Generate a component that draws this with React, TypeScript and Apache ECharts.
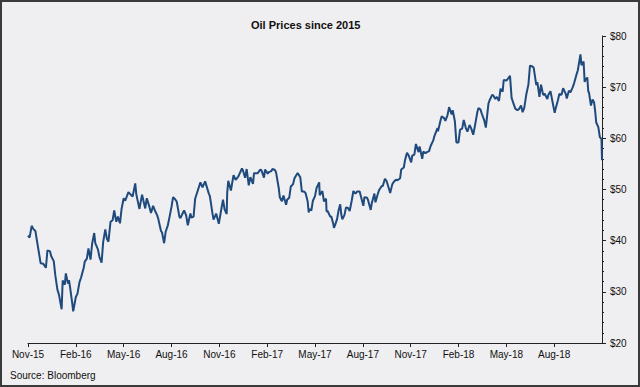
import React, { useEffect, useRef } from "react";
import * as echarts from "echarts";

// WTI crude, USD/bbl
const wti2015: [string, number][] = [
  ["2015-11-17", 41.0], ["2015-11-20", 40.6], ["2015-11-24", 42.9], ["2015-11-27", 42.3],
  ["2015-12-01", 41.9], ["2015-12-04", 40.0], ["2015-12-08", 37.5], ["2015-12-11", 35.6],
  ["2015-12-16", 35.5], ["2015-12-21", 34.7], ["2015-12-24", 38.1], ["2015-12-29", 37.9],
  ["2015-12-31", 37.0],
];
const wti2016: [string, number][] = [
  ["2016-01-05", 36.0], ["2016-01-08", 33.2], ["2016-01-12", 30.4], ["2016-01-15", 29.4],
  ["2016-01-20", 26.6], ["2016-01-22", 32.2], ["2016-01-26", 31.4], ["2016-01-28", 33.6],
  ["2016-02-01", 31.6], ["2016-02-03", 32.3], ["2016-02-05", 30.9], ["2016-02-09", 27.9],
  ["2016-02-11", 26.2], ["2016-02-16", 29.0], ["2016-02-19", 29.6], ["2016-02-23", 31.9],
  ["2016-02-26", 32.8], ["2016-03-02", 34.7], ["2016-03-04", 35.9], ["2016-03-08", 36.5],
  ["2016-03-11", 38.5], ["2016-03-15", 36.3], ["2016-03-18", 39.4], ["2016-03-22", 41.5],
  ["2016-03-24", 39.5], ["2016-03-29", 38.3], ["2016-04-01", 36.8], ["2016-04-05", 35.7],
  ["2016-04-08", 39.7], ["2016-04-12", 42.2], ["2016-04-15", 40.4], ["2016-04-18", 39.8],
  ["2016-04-22", 43.7], ["2016-04-26", 44.0], ["2016-04-29", 45.9], ["2016-05-03", 43.7],
  ["2016-05-06", 44.7], ["2016-05-10", 43.4], ["2016-05-13", 46.2], ["2016-05-17", 48.3],
  ["2016-05-20", 47.8], ["2016-05-26", 49.5], ["2016-06-03", 48.6], ["2016-06-08", 51.2],
  ["2016-06-10", 49.1], ["2016-06-16", 46.2], ["2016-06-21", 49.0], ["2016-06-27", 46.3],
  ["2016-06-30", 48.3], ["2016-07-05", 46.6], ["2016-07-08", 45.4], ["2016-07-12", 46.8],
  ["2016-07-15", 46.0], ["2016-07-20", 44.9], ["2016-07-22", 44.2], ["2016-07-27", 41.9],
  ["2016-07-29", 41.6], ["2016-08-02", 39.5], ["2016-08-05", 41.8], ["2016-08-09", 43.0],
  ["2016-08-12", 44.5], ["2016-08-16", 46.6], ["2016-08-19", 48.5], ["2016-08-23", 48.1],
  ["2016-08-26", 47.6], ["2016-08-31", 44.7], ["2016-09-02", 44.4], ["2016-09-07", 45.5],
  ["2016-09-09", 45.9], ["2016-09-13", 44.9], ["2016-09-16", 43.0], ["2016-09-21", 45.3],
  ["2016-09-23", 44.5], ["2016-09-27", 44.7], ["2016-09-30", 48.2], ["2016-10-05", 49.8],
  ["2016-10-10", 51.4], ["2016-10-14", 50.4], ["2016-10-19", 51.6], ["2016-10-21", 50.9],
  ["2016-10-26", 49.2], ["2016-10-28", 48.7], ["2016-11-02", 45.3], ["2016-11-04", 44.1],
  ["2016-11-09", 45.3], ["2016-11-14", 43.3], ["2016-11-18", 45.7], ["2016-11-22", 48.0],
  ["2016-11-25", 46.1], ["2016-11-29", 45.2], ["2016-11-30", 49.4], ["2016-12-02", 51.7],
  ["2016-12-07", 49.8], ["2016-12-12", 52.8], ["2016-12-16", 51.9], ["2016-12-21", 52.5],
  ["2016-12-28", 54.1], ["2016-12-30", 53.7],
];
const wti2017: [string, number][] = [
  ["2017-01-03", 52.3], ["2017-01-06", 54.0], ["2017-01-10", 50.8], ["2017-01-13", 52.4],
  ["2017-01-18", 51.1], ["2017-01-20", 53.2], ["2017-01-24", 53.2], ["2017-01-27", 53.2],
  ["2017-02-01", 53.9], ["2017-02-03", 53.8], ["2017-02-08", 52.3], ["2017-02-10", 53.9],
  ["2017-02-15", 53.1], ["2017-02-17", 53.4], ["2017-02-22", 53.6], ["2017-02-24", 54.0],
  ["2017-03-01", 53.8], ["2017-03-03", 53.3], ["2017-03-08", 50.3], ["2017-03-10", 48.5],
  ["2017-03-14", 47.7], ["2017-03-17", 48.8], ["2017-03-22", 47.0], ["2017-03-24", 48.0],
  ["2017-03-28", 48.4], ["2017-03-31", 50.6], ["2017-04-04", 51.0], ["2017-04-07", 52.2],
  ["2017-04-12", 53.1], ["2017-04-13", 53.2], ["2017-04-18", 52.4], ["2017-04-21", 49.6],
  ["2017-04-25", 49.6], ["2017-04-28", 49.3], ["2017-05-02", 47.7], ["2017-05-04", 45.5],
  ["2017-05-05", 46.2], ["2017-05-09", 45.9], ["2017-05-12", 47.8], ["2017-05-16", 48.7],
  ["2017-05-19", 50.3], ["2017-05-24", 51.4], ["2017-05-25", 48.9], ["2017-05-30", 49.7],
  ["2017-06-02", 47.7], ["2017-06-06", 48.2], ["2017-06-07", 45.7], ["2017-06-09", 45.8],
  ["2017-06-14", 44.7], ["2017-06-16", 44.7], ["2017-06-20", 43.2], ["2017-06-21", 42.5],
  ["2017-06-23", 43.0], ["2017-06-27", 44.2], ["2017-06-30", 46.0], ["2017-07-03", 47.1],
  ["2017-07-05", 45.1], ["2017-07-07", 44.2], ["2017-07-11", 45.0], ["2017-07-14", 46.5],
  ["2017-07-18", 46.4], ["2017-07-21", 45.8], ["2017-07-25", 47.9], ["2017-07-28", 49.7],
  ["2017-08-01", 49.2], ["2017-08-04", 49.6], ["2017-08-09", 49.6], ["2017-08-11", 48.8],
  ["2017-08-16", 46.8], ["2017-08-18", 48.5], ["2017-08-23", 48.4], ["2017-08-25", 47.9],
  ["2017-08-30", 46.0], ["2017-09-01", 47.3], ["2017-09-06", 49.2], ["2017-09-08", 47.5],
  ["2017-09-13", 49.3], ["2017-09-15", 49.9], ["2017-09-20", 50.7], ["2017-09-22", 50.7],
  ["2017-09-26", 52.1], ["2017-09-29", 51.7], ["2017-10-03", 50.4], ["2017-10-06", 49.3],
  ["2017-10-10", 51.0], ["2017-10-13", 51.5], ["2017-10-17", 51.9], ["2017-10-20", 51.8],
  ["2017-10-25", 52.2], ["2017-10-27", 53.9], ["2017-11-01", 54.3], ["2017-11-03", 55.6],
  ["2017-11-07", 57.2], ["2017-11-10", 56.7], ["2017-11-15", 55.3], ["2017-11-17", 56.6],
  ["2017-11-21", 56.8], ["2017-11-24", 58.9], ["2017-11-29", 57.3], ["2017-12-01", 58.4],
  ["2017-12-06", 56.0], ["2017-12-08", 57.4], ["2017-12-12", 57.1], ["2017-12-15", 57.3],
  ["2017-12-19", 57.5], ["2017-12-22", 58.5], ["2017-12-27", 59.6], ["2017-12-29", 60.4],
];
const wti2018: [string, number][] = [
  ["2018-01-04", 62.0], ["2018-01-05", 61.4], ["2018-01-10", 63.6], ["2018-01-12", 64.3],
  ["2018-01-17", 63.9], ["2018-01-19", 63.4], ["2018-01-23", 64.5], ["2018-01-25", 65.5],
  ["2018-01-26", 66.1], ["2018-01-31", 64.7], ["2018-02-02", 65.5], ["2018-02-06", 63.4],
  ["2018-02-09", 59.2], ["2018-02-13", 59.2], ["2018-02-16", 61.7], ["2018-02-20", 61.9],
  ["2018-02-23", 63.6], ["2018-02-27", 62.0], ["2018-03-02", 61.3], ["2018-03-06", 62.6],
  ["2018-03-09", 62.0], ["2018-03-13", 60.7], ["2018-03-16", 62.3], ["2018-03-21", 65.2],
  ["2018-03-23", 65.9], ["2018-03-27", 65.6], ["2018-03-29", 64.9], ["2018-04-03", 63.5],
  ["2018-04-06", 62.1], ["2018-04-11", 66.8], ["2018-04-13", 67.4], ["2018-04-18", 68.5],
  ["2018-04-20", 68.4], ["2018-04-24", 67.7], ["2018-04-27", 68.1], ["2018-05-01", 67.3],
  ["2018-05-04", 69.7], ["2018-05-08", 69.1], ["2018-05-10", 71.4], ["2018-05-15", 71.3],
  ["2018-05-17", 71.5], ["2018-05-22", 72.2], ["2018-05-25", 67.9], ["2018-05-29", 66.7],
  ["2018-06-01", 65.8], ["2018-06-05", 65.5], ["2018-06-08", 65.7], ["2018-06-12", 66.4],
  ["2018-06-15", 65.1], ["2018-06-18", 65.9], ["2018-06-22", 68.6], ["2018-06-26", 70.5],
  ["2018-06-29", 74.2], ["2018-07-03", 74.1], ["2018-07-06", 73.8], ["2018-07-11", 70.4],
  ["2018-07-13", 71.0], ["2018-07-17", 68.1], ["2018-07-20", 70.5], ["2018-07-24", 68.5],
  ["2018-07-27", 68.7], ["2018-08-01", 67.7], ["2018-08-03", 68.5], ["2018-08-07", 69.2],
  ["2018-08-10", 67.6], ["2018-08-15", 65.0], ["2018-08-17", 65.9], ["2018-08-21", 67.4],
  ["2018-08-24", 68.7], ["2018-08-28", 68.5], ["2018-08-31", 69.8], ["2018-09-05", 68.7],
  ["2018-09-07", 67.8], ["2018-09-11", 69.3], ["2018-09-14", 69.0], ["2018-09-18", 69.9],
  ["2018-09-21", 70.8], ["2018-09-25", 72.3], ["2018-09-28", 73.3], ["2018-10-03", 76.4],
  ["2018-10-05", 74.3], ["2018-10-09", 75.0], ["2018-10-11", 71.0], ["2018-10-12", 71.3],
  ["2018-10-16", 71.9], ["2018-10-18", 69.0], ["2018-10-19", 69.1], ["2018-10-23", 66.4],
  ["2018-10-26", 67.6], ["2018-10-29", 67.0], ["2018-10-31", 65.3], ["2018-11-02", 63.1],
  ["2018-11-06", 62.2], ["2018-11-09", 60.2], ["2018-11-12", 59.9], ["2018-11-13", 55.7],
];

const startDate = "2015-11-17";
const endDate = "2018-11-13";
const tickStepDays = 91; // 13-week tick spacing
const yTicks = { min: 20, max: 80, step: 10 };
const monthNames = ["Jan", "Feb", "Mar", "Apr", "May", "Jun", "Jul", "Aug", "Sep", "Oct", "Nov", "Dec"];

const DAY = 86400000;
const toMs = (s: string) => {
  const [y, m, d] = s.split("-").map(Number);
  return Date.UTC(y, m - 1, d);
};
const dayOffset = (s: string) => Math.round((toMs(s) - toMs(startDate)) / DAY);

const FONT = "'Liberation Sans', Arial, sans-serif";

export default function App() {
  const ref = useRef<HTMLDivElement>(null);
  useEffect(() => {
    if (!ref.current) return;
    const chart = echarts.init(ref.current, undefined, { renderer: "svg" });
    const all = [...wti2015, ...wti2016, ...wti2017, ...wti2018];
    const data = all.map(([d, v]) => [dayOffset(d), v]);
    const maxDay = dayOffset(endDate);
    chart.setOption({
      animation: false,
      backgroundColor: "#efeef0",
      title: {
        text: "Oil Prices since 2015",
        left: 246,
        top: 14,
        textStyle: { fontFamily: FONT, fontSize: 11, fontWeight: "bold", color: "#111" },
      },
      grid: { left: 28, right: 38, top: 36, bottom: 44 },
      xAxis: {
        type: "value",
        min: 0,
        max: maxDay,
        interval: tickStepDays,
        splitLine: { show: false },
        axisLine: { show: true, onZero: false, lineStyle: { color: "#222", width: 1 } },
        axisTick: { show: true, length: 4, lineStyle: { color: "#222" } },
        axisLabel: {
          margin: 6,
          fontFamily: FONT,
          fontSize: 10,
          color: "#111",
          showMaxLabel: false,
          formatter: (v: number) => {
            if (v >= maxDay) return "";
            const dt = new Date(toMs(startDate) + v * DAY);
            return monthNames[dt.getUTCMonth()] + "-" + String(dt.getUTCFullYear()).slice(2);
          },
        },
      },
      yAxis: {
        type: "value",
        position: "right",
        min: yTicks.min,
        max: yTicks.max,
        interval: yTicks.step,
        splitLine: { show: false },
        axisLine: { show: true, onZero: false, lineStyle: { color: "#222", width: 1 } },
        axisTick: { show: true, length: 4, lineStyle: { color: "#222" } },
        minorTick: { show: true, splitNumber: 5, length: 2, lineStyle: { color: "#222" } },
        axisLabel: {
          margin: 8,
          fontFamily: FONT,
          fontSize: 10,
          color: "#111",
          formatter: (v: number) => "$" + v,
        },
      },
      series: [
        {
          type: "line",
          data,
          showSymbol: false,
          symbol: "none",
          lineStyle: { color: "#1f4a7d", width: 2 },
          z: 3,
        },
      ],
      graphic: [
        {
          type: "rect",
          shape: { x: 1, y: 1, width: 638, height: 385 },
          style: { fill: "none", stroke: "#3a3a3a", lineWidth: 2 },
          silent: true,
        },
        {
          type: "text",
          left: 10,
          top: 370,
          style: { text: "Source: Bloomberg", font: `10px ${FONT}`, fill: "#111" },
        },
      ],
    });
    return () => chart.dispose();
  }, []);
  return (
    <div
      ref={ref}
      style={{ position: "fixed", left: 0, top: 0, width: 640, height: 387 }}
    />
  );
}
